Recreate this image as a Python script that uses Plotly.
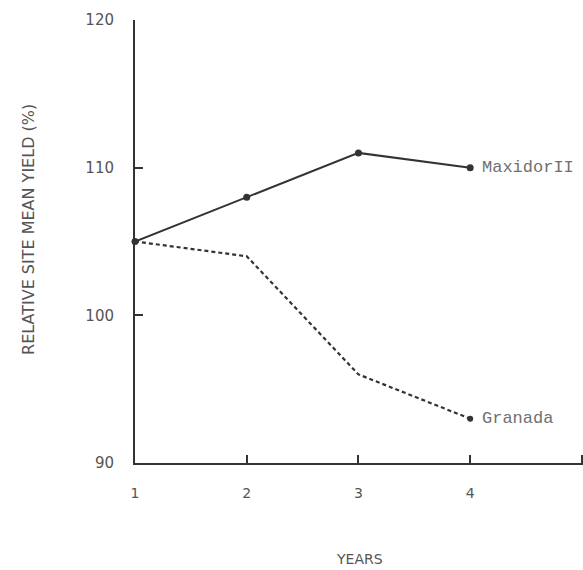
import plotly.graph_objects as go

years = [1, 2, 3, 4]
maxidor = [105, 108, 111, 110]
granada = [105, 104, 96, 93]
x_ticks = [1, 2, 3, 4, 5]
y_ticks = [90, 100, 110, 120]

ink = "#333333"
txt = "#555555"
fig = go.Figure()
fig.add_trace(go.Scatter(x=years, y=granada, mode="lines", line=dict(color=ink, width=2.2, dash="4px,3px"),
                         showlegend=False, cliponaxis=False))
fig.add_trace(go.Scatter(x=[years[-1]], y=[granada[-1]], mode="markers", marker=dict(color=ink, size=6),
                         showlegend=False, cliponaxis=False))
fig.add_trace(go.Scatter(x=years, y=maxidor, mode="lines+markers", line=dict(color=ink, width=2),
                         marker=dict(color=ink, size=7), showlegend=False, cliponaxis=False))

fig.add_annotation(x=years[-1], y=maxidor[-1], text="MaxidorII", showarrow=False, xanchor="left",
                   xshift=10, font=dict(family="Liberation Mono", size=17, color="#707070"))
fig.add_annotation(x=years[-1], y=granada[-1], text="Granada", showarrow=False, xanchor="left",
                   xshift=10, font=dict(family="Liberation Mono", size=17, color="#707070"))

# axis titles placed as annotations
fig.add_annotation(xref="paper", yref="paper", x=0, y=0.526, xshift=-106, textangle=-90,
                   text="RELATIVE SITE MEAN YIELD (%)", showarrow=False, xanchor="center", yanchor="middle",
                   font=dict(family="DejaVu Sans", size=16, color=txt))
fig.add_annotation(xref="paper", yref="paper", x=0.5, y=0, yshift=-96,
                   text="YEARS", showarrow=False, xanchor="center", yanchor="middle",
                   font=dict(family="DejaVu Sans", size=14, color=txt))

fig.update_layout(
    width=583, height=570, plot_bgcolor="white", paper_bgcolor="white",
    margin=dict(l=135, r=0, t=20, b=107),
    font=dict(family="DejaVu Sans", color=txt, size=14),
)
fig.update_xaxes(range=[1, 5.01], tickvals=x_ticks, ticktext=[str(v) for v in x_ticks],
                 showgrid=False, zeroline=False, showline=True, linecolor=ink, linewidth=2,
                 ticks="inside", ticklen=8, tickcolor=ink, tickwidth=1.5, ticklabelstandoff=16,
                 automargin=False, tickfont=dict(size=14, color=txt))
fig.update_yaxes(range=[90, 120], tickvals=y_ticks, ticktext=[str(v) for v in y_ticks],
                 showgrid=False, zeroline=False, showline=True, linecolor=ink, linewidth=2,
                 ticks="inside", ticklen=8, tickcolor=ink, tickwidth=1.5, ticklabelstandoff=16,
                 automargin=False, tickfont=dict(size=15, color=txt))

fig.write_html("out.html", config={"displayModeBar": False},
               post_script="document.body.style.margin='0';document.body.style.overflow='hidden';")
